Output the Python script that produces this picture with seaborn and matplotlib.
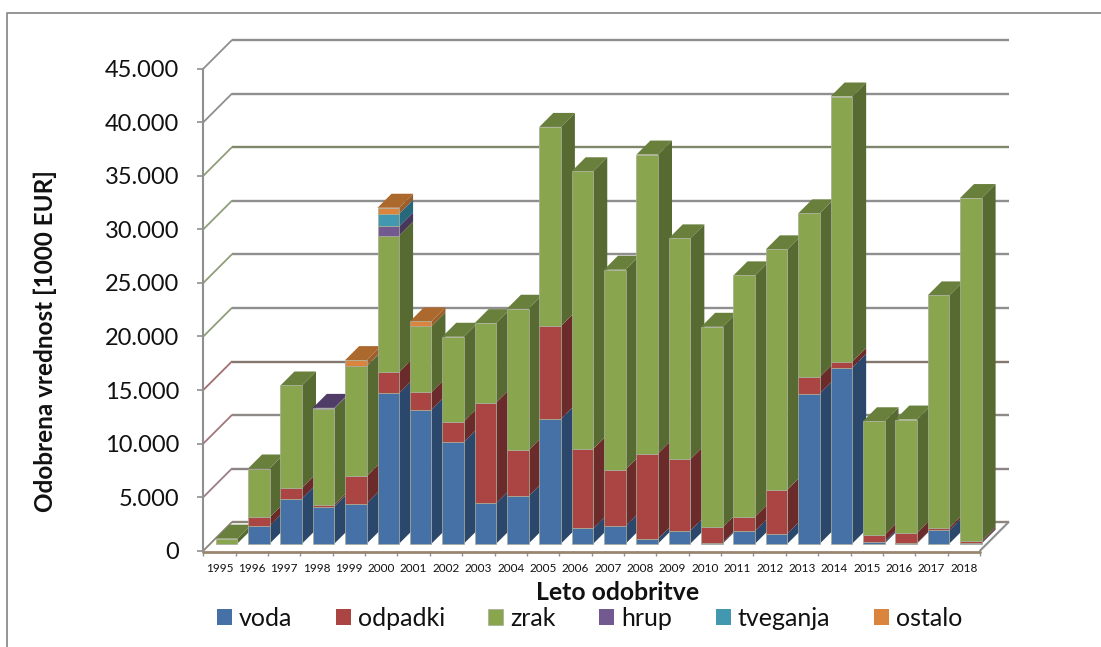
import numpy as np
import matplotlib
matplotlib.use("Agg")
import matplotlib.pyplot as plt
from matplotlib.lines import Line2D
from matplotlib.patches import Polygon
from matplotlib.transforms import Affine2D
import seaborn as sns

leta = [str(l) for l in range(1995, 2019)]
voda = [0, 1680, 4215, 3465, 3745, 14045, 12500, 9470, 3770, 4425, 11650, 1430,
        1650, 440, 1215, 90, 1185, 935, 14020, 16420, 160, 30, 1245, 90]
odpadki = [0, 780, 1000, 155, 2555, 1965, 1640, 1930, 9410, 4295, 8660, 7420,
           5265, 7970, 6665, 1435, 1340, 4110, 1560, 560, 650, 970, 220, 160]
zrak = [470, 4560, 9555, 9000, 10270, 12760, 6170, 7920, 7410, 13215, 18600, 25920,
        18665, 27920, 20625, 18725, 22525, 22435, 15260, 24770, 10620, 10590, 21715, 32020]
hrup = [0, 0, 0, 60, 0, 845, 0, 0, 0, 0, 0, 0, 0, 0, 0, 0, 0, 0, 0, 0, 0, 0, 0, 0]
tveganja = [0, 0, 0, 0, 40, 1185, 0, 0, 0, 0, 0, 0, 0, 0, 0, 0, 0, 0, 0, 0, 0, 0, 0, 0]
ostalo = [0, 0, 0, 0, 530, 565, 440, 0, 0, 0, 0, 0, 0, 0, 0, 0, 0, 0, 0, 0, 0, 0, 0, 0]

serije = ["voda", "odpadki", "zrak", "hrup", "tveganja", "ostalo"]
vrednosti = [voda, odpadki, zrak, hrup, tveganja, ostalo]
barve = ["#4571a7", "#aa4543", "#89a54e", "#72598f", "#4198af", "#db843d"]
stranske = ["#2b476b", "#6b2b2a", "#576a32", "#47375b", "#27687c", "#9c5f2b"]
zgornje = ["#36598a", "#87383a", "#697f3c", "#4f3d67", "#2f7f96", "#ac692e"]

os_y = [0, 5000, 10000, 15000, 20000, 25000, 30000, 35000, 40000, 45000]
barve_mreze = ["#8c8478", "#8c8484", "#8e8a88", "#84786e", "#8f8f8f", "#8f8f8f",
               "#8f8f8f", "#7f876b", "#8f8f8f", "#8f8f8f"]
barve_stene = ["#8c8478", "#9a7f85", "#a0787a", "#a07070", "#8f9f7a", "#8f9f7a",
               "#8f9f7a", "#8f9f7a", "#8f8f8f", "#8f8f8f"]

SIRINA, VISINA = 1101, 647
LEVO, DESNO, SPODAJ, ZGORAJ = 203.3, 980.0, 550.7, 68.7
GLOBINA = 28.5
ZAMIK = 7.0
GLOBINA_STOLPCA = 14.0

sns.set_theme(style="white")
plt.rcParams["font.family"] = ["Lato", "DejaVu Sans"]

fig = plt.figure(figsize=(SIRINA / 100, VISINA / 100), dpi=100)
ax = fig.add_axes([LEVO / SIRINA, (VISINA - SPODAJ) / VISINA,
                   (DESNO - LEVO) / SIRINA, (SPODAJ - ZGORAJ) / VISINA])

spodaj = np.zeros(len(leta))
for ime, vrsta, barva in zip(serije, vrednosti, barve):
    sns.barplot(x=leta, y=vrsta, bottom=spodaj, color=barva, saturation=1, width=0.667,
                errorbar=None, label=ime, ax=ax, linewidth=0)
    spodaj = spodaj + np.array(vrsta)

ax.set_xlim(-0.5, 23.5)
ax.set_ylim(0, 45000)
px_x = (DESNO - LEVO) / 24
px_y = (SPODAJ - ZGORAJ) / 45000
dx = lambda d: d / px_x
dy = lambda d: d / px_y

# tla in stene
siva = "#8f8f8f"
x0, x1 = -0.5, 23.5
for v, c_m, c_s in zip(os_y, barve_mreze, barve_stene):
    ax.plot([x0 + dx(GLOBINA), x1 + dx(GLOBINA)], [v + dy(GLOBINA)] * 2, color=c_m, lw=1.7,
            clip_on=False, zorder=1, solid_capstyle="butt")
    ax.plot([x0, x0 + dx(GLOBINA)], [v, v + dy(GLOBINA)], color=c_s, lw=1.3,
            clip_on=False, zorder=1)
ax.plot([x1, x1 + dx(GLOBINA)], [0, dy(GLOBINA)], color=siva, lw=1.5, clip_on=False, zorder=1)
ax.plot([x0, x1], [-100, -100], color="#9a8570", lw=2, clip_on=False, zorder=1)

# stolpci: sprednja ploskev iz seaborna, stranska in zgornja iz istih pravokotnikov
premik = ax.transData + Affine2D().translate(ZAMIK, ZAMIK)
for s, skupina in enumerate(ax.containers):
    for i, pravokotnik in enumerate(skupina):
        pravokotnik.set_transform(premik)
        pravokotnik.set_clip_on(False)
        pravokotnik.set_zorder(3 + i + 0.5)
        visina = pravokotnik.get_height()
        if visina <= 0:
            continue
        pravokotnik.set_edgecolor((0.66, 0.68, 0.6, 0.9))
        pravokotnik.set_linewidth(0.6)
        levo = pravokotnik.get_x()
        desno = levo + pravokotnik.get_width()
        sp = pravokotnik.get_y()
        zg = sp + visina
        ax.add_patch(Polygon([(desno, sp), (desno + dx(GLOBINA_STOLPCA), sp + dy(GLOBINA_STOLPCA)),
                              (desno + dx(GLOBINA_STOLPCA), zg + dy(GLOBINA_STOLPCA)), (desno, zg)],
                             facecolor=stranske[s], edgecolor="none", transform=premik,
                             clip_on=False, zorder=3 + i))
        if all(vrednosti[k][i] == 0 for k in range(s + 1, len(serije))):
            ax.add_patch(Polygon([(levo, zg), (desno, zg),
                                  (desno + dx(GLOBINA_STOLPCA), zg + dy(GLOBINA_STOLPCA)),
                                  (levo + dx(GLOBINA_STOLPCA), zg + dy(GLOBINA_STOLPCA))],
                                 facecolor=zgornje[s], edgecolor="none", transform=premik,
                                 clip_on=False, zorder=3 + i))

for stran in ["top", "right", "bottom"]:
    ax.spines[stran].set_visible(False)
ax.spines["left"].set_color(siva)
ax.spines["left"].set_linewidth(1.5)
ax.patch.set_alpha(0)

ax.set_yticks(os_y)
ax.set_yticklabels([f"{v:,}".replace(",", ".") for v in os_y], fontsize=17, color="#111111")
ax.tick_params(axis="y", left=True, length=4, width=1.2, color=siva, pad=13.5)

ax.set_xticks(np.arange(-0.5, 24), labels=[""] * 25)
ax.set_xticks(np.arange(24), labels=leta, minor=True)
ax.tick_params(axis="x", which="major", bottom=True, length=3.5, width=1, color=siva)
ax.tick_params(axis="x", which="minor", bottom=False, labelsize=8.5, labelcolor="#111111", pad=5)

ax.set_ylabel("Odobrena vrednost [1000 EUR]", fontsize=17.5, fontweight="bold", color="#111111", va="center")
ax.yaxis.set_label_coords((45 - LEVO) / (DESNO - LEVO), (SPODAJ - 341.5) / (SPODAJ - ZGORAJ))
ax.set_xlabel("Leto odobritve", fontsize=17.8, fontweight="bold", color="#111111", va="center")
ax.xaxis.set_label_coords((618 - LEVO) / (DESNO - LEVO), (SPODAJ - 592) / (SPODAJ - ZGORAJ))

ax.legend(ncols=6, loc="center", bbox_to_anchor=((589.5 - LEVO) / (DESNO - LEVO), (SPODAJ - 618) / (SPODAJ - ZGORAJ)),
          frameon=False, fontsize=18, handlelength=0.6, handleheight=0.6, handletextpad=0.3,
          columnspacing=1.72, labelcolor="#111111", borderpad=0, borderaxespad=0)

# okvir grafikona
fig.add_artist(Line2D([7 / SIRINA, 7 / SIRINA, 1], [0, 1 - 13 / VISINA, 1 - 13 / VISINA],
                      color="#8c8c8c", lw=1.3))

fig.savefig("out.png", dpi=100)
